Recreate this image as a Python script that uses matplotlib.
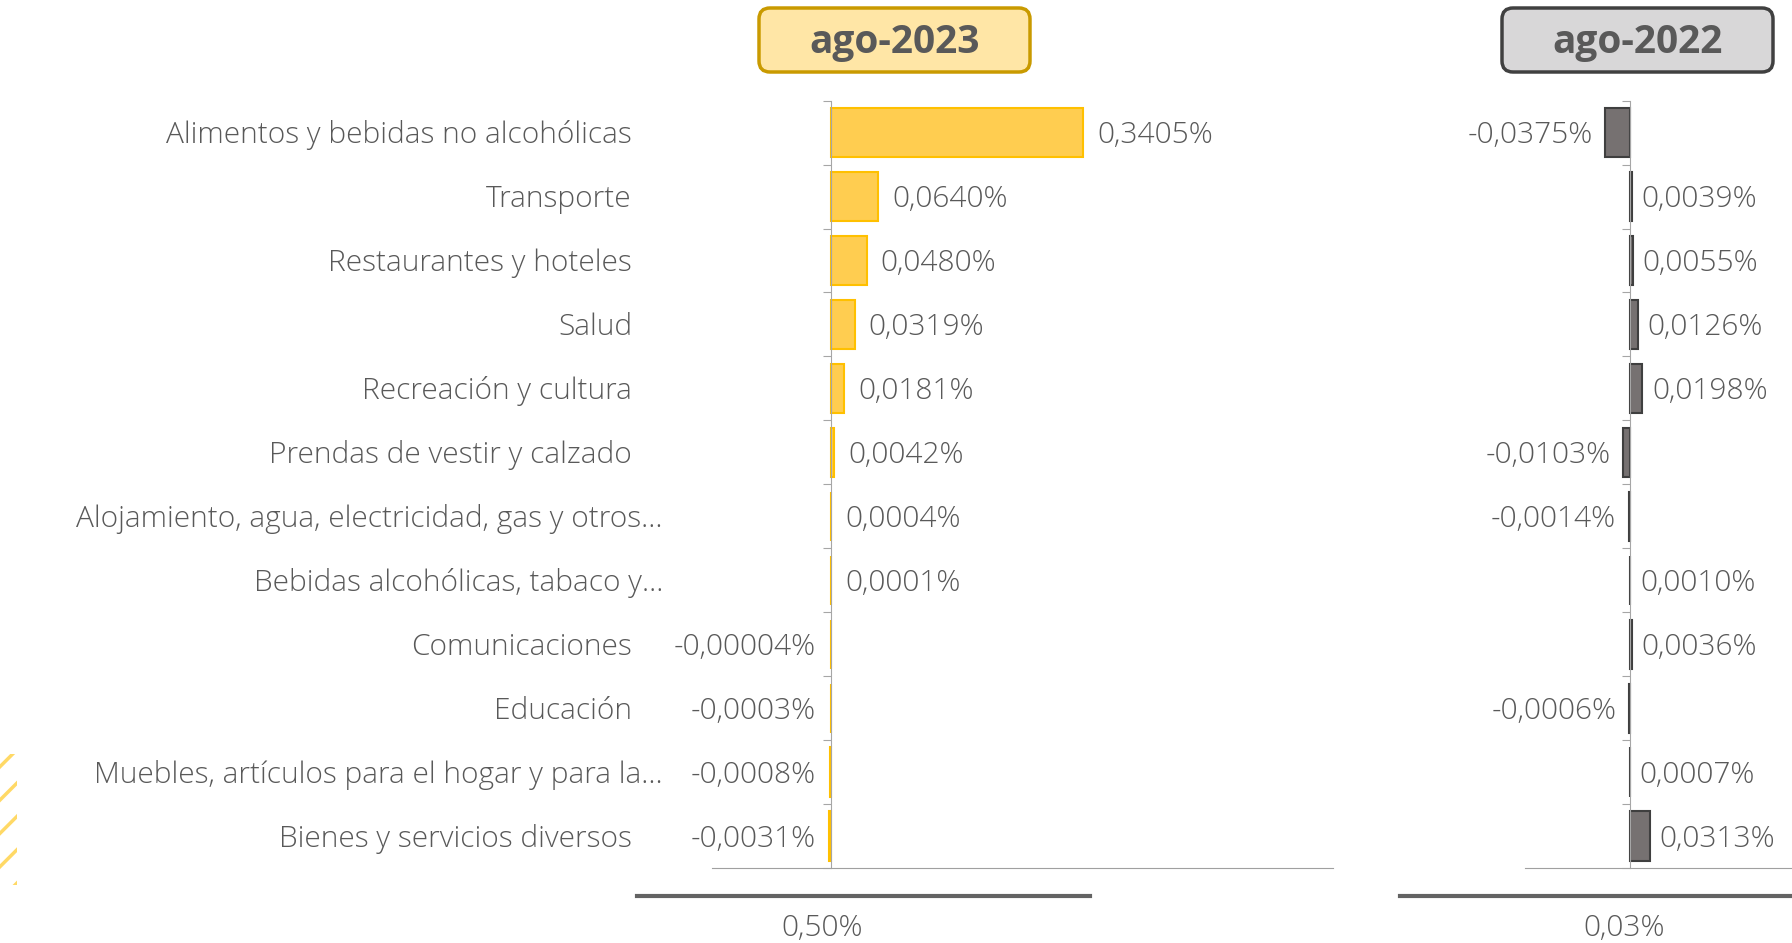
import numpy as np
import matplotlib.pyplot as plt
from matplotlib.patches import FancyBboxPatch, Rectangle
from matplotlib.lines import Line2D
from matplotlib.transforms import IdentityTransform

categorias = [
    "Alimentos y bebidas no alcohólicas",
    "Transporte",
    "Restaurantes y hoteles",
    "Salud",
    "Recreación y cultura",
    "Prendas de vestir y calzado",
    "Alojamiento, agua, electricidad, gas y otros…",
    "Bebidas alcohólicas, tabaco y…",
    "Comunicaciones",
    "Educación",
    "Muebles, artículos para el hogar y para la…",
    "Bienes y servicios diversos",
]
v2023 = [0.3405, 0.0640, 0.0480, 0.0319, 0.0181, 0.0042, 0.0004, 0.0001,
         -0.00004, -0.0003, -0.0008, -0.0031]
t2023 = ["0,3405%", "0,0640%", "0,0480%", "0,0319%", "0,0181%", "0,0042%",
         "0,0004%", "0,0001%", "-0,00004%", "-0,0003%", "-0,0008%", "-0,0031%"]
v2022 = [-0.0375, 0.0039, 0.0055, 0.0126, 0.0198, -0.0103, -0.0014, 0.0010,
         0.0036, -0.0006, 0.0007, 0.0313]
t2022 = ["-0,0375%", "0,0039%", "0,0055%", "0,0126%", "0,0198%", "-0,0103%",
         "-0,0014%", "0,0010%", "0,0036%", "-0,0006%", "0,0007%", "0,0313%"]
titulos = ["ago-2023", "ago-2022"]
totales = ["0,50%", "0,03%"]

W, H = 1792, 943
GRIS = "#595959"
plt.rcParams["font.family"] = ["Open Sans", "DejaVu Sans"]
plt.rcParams["hatch.linewidth"] = 2.5

fig = plt.figure(figsize=(W / 100, H / 100), dpi=100)


def caja(x, y, w, h):
    # pixeles desde arriba-izquierda -> fraccion de figura
    return [x / W, 1 - (y + h) / H, w / W, h / H]


ax1 = fig.add_axes(caja(712, 100.6, 621, 767.4))
ax2 = fig.add_axes(caja(1525, 100.6, 267, 767.4))

y = np.arange(len(categorias))

ax1.barh(y, v2023, height=0.77, color="#FFCD50", edgecolor="#FFC000", linewidth=1.5)
ax2.barh(y, v2022, height=0.77, color="#767171", edgecolor="#3F3F3F", linewidth=1.5)
ax1.set_xlim(-0.1606, 0.6775)
ax2.set_xlim(-0.1595, 0.248)

for ax in (ax1, ax2):
    ax.set_ylim(len(categorias) - 0.5, -0.5)
    for s in ("top", "right"):
        ax.spines[s].set_visible(False)
    ax.spines["left"].set_position(("data", 0))
    ax.spines["left"].set_color("#A6A6A6")
    ax.spines["bottom"].set_color("#A0A0A0")
    ax.set_xticks([])
    ax.set_yticks(np.arange(-0.5, len(categorias), 1))
    ax.tick_params(axis="y", direction="out", length=6, color="#A6A6A6", labelleft=False)
    ax.patch.set_alpha(0)

fs = 21.5
fw = "light"
dy = -2
for i, (v, t) in enumerate(zip(v2023, t2023)):
    if v >= 0:
        ax1.annotate(t, (v, i), xytext=(10, dy), textcoords="offset points",
                     ha="left", va="center", fontsize=fs, color=GRIS, weight=fw)
    else:
        ax1.annotate(t, (0, i), xytext=(-11, dy), textcoords="offset points",
                     ha="right", va="center", fontsize=fs, color=GRIS, weight=fw)

for i, (v, t) in enumerate(zip(v2022, t2022)):
    if v >= 0:
        ax2.annotate(t, (v, i), xytext=(7, dy), textcoords="offset points",
                     ha="left", va="center", fontsize=fs, color=GRIS, weight=fw)
    else:
        ax2.annotate(t, (v, i), xytext=(-9, dy), textcoords="offset points",
                     ha="right", va="center", fontsize=fs, color=GRIS, weight=fw)

for i, c in enumerate(categorias):
    dx = -(712 - 663) if c.endswith("…") else -(712 - 632)
    ax1.annotate(c, (0, i), xycoords=("axes fraction", "data"), xytext=(dx * 0.72, dy),
                 textcoords="offset points", ha="right", va="center", fontsize=fs,
                 color=GRIS, weight=fw)

# cabeceras
for (x0, fc, ec), t in zip([(759, "#FFE6A6", "#C99A00"), (1502, "#D8D7D8", "#404040")], titulos):
    fig.add_artist(FancyBboxPatch((x0, H - 72), 271, 64, boxstyle="round,pad=0,rounding_size=11",
                                  transform=IdentityTransform(), fc=fc, ec=ec, lw=2.5))
    fig.text((x0 + 135.5) / W, 1 - 42 / H, t, ha="center", va="center",
             fontsize=28, weight="bold", color=GRIS)

# totales abajo
for (xa, xb, xc), t in zip([(637, 1090, 822), (1400, 1792, 1624)], totales):
    fig.add_artist(Line2D([xa / W, xb / W], [1 - 896 / H] * 2, lw=3, color="#636363",
                          transform=fig.transFigure))
    fig.text(xc / W, 1 - 928 / H, t, ha="center", va="center", fontsize=fs,
             color=GRIS, weight=fw)

# decoracion rayada
fig.add_artist(Rectangle((0, 1 - 885 / H), 17 / W, 131 / H, transform=fig.transFigure,
                         fill=False, hatch="/", edgecolor="#FFD966", lw=0))

fig.savefig("out.png", dpi=100)
